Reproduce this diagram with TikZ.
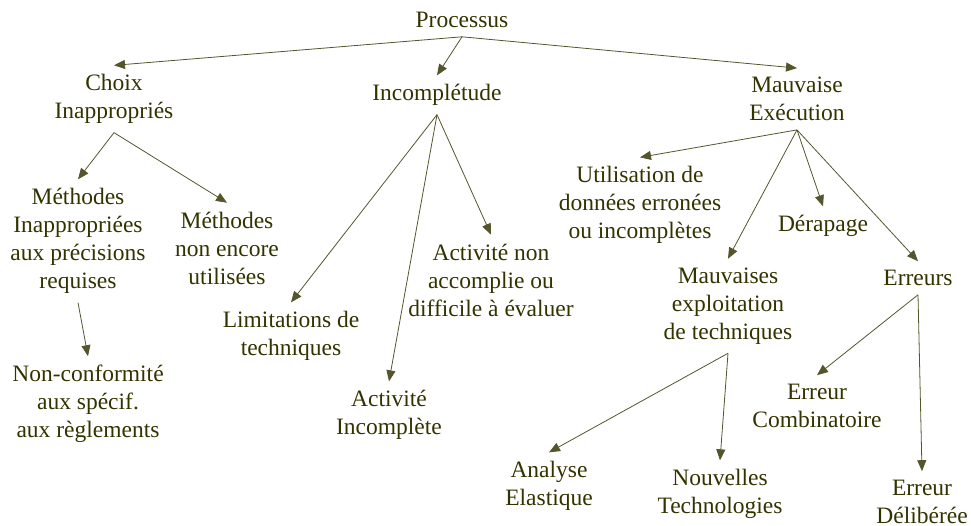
\documentclass[tikz,border=0pt]{standalone}
\usepackage{fontspec}
\setmainfont{Liberation Serif}
\usepackage{tikz}
\usetikzlibrary{arrows.meta}
\definecolor{olivetext}{RGB}{51,51,0}
\definecolor{oliveline}{RGB}{85,85,45}

\begin{document}
\begin{tikzpicture}[x = 1pt, y = -1pt, line width = 0.8pt,
                        txt/.style = {align = center, text = olivetext, inner sep = 2pt, outer sep = 7pt,
                                      font = \fontsize{23.5}{28}\selectfont},
                        arr/.style = {color = oliveline, -{Triangle[length = 11pt, width = 9pt]}}]
      \useasboundingbox (0, 0) rectangle (971, 526);

      \node [txt] (a1) at (462, 20) {Processus};
      \node [txt] (a2) at (114, 99) {Choix\\Inappropriés};
      \node [txt] (a3) at (437, 95) {Incomplétude};
      \node [txt] (a4) at (797, 99) {Mauvaise\\Exécution};
      \node [txt] (a5) at (78, 241) {Méthodes\\Inappropriées\\aux précisions\\requises};
      \node [txt] (a6) at (227, 248) {Méthodes\\non encore\\utilisées};
      \node [txt] (a7) at (88, 404) {Non-conformité\\aux spécif.\\aux règlements};
      \node [txt] (a8) at (291, 336) {Limitations de\\techniques};
      \node [txt] (a9) at (389, 415) {Activité\\Incomplète};
      \node [txt] (a10) at (491, 280) {Activité non\\accomplie ou\\difficile à évaluer};
      \node [txt] (a11) at (640, 205) {Utilisation de\\données erronées\\ou incomplètes};
      \node [txt] (a12) at (823, 226) {Dérapage};
      \node [txt] (a13) at (728, 306) {Mauvaises\\exploitation\\de techniques};
      \node [txt] (a14) at (918, 278) {Erreurs};
      \node [txt] (a15) at (817, 406) {Erreur\\Combinatoire};
      \node [txt] (a16) at (549, 486) {Analyse\\Elastique};
      \node [txt] (a17) at (720, 494) {Nouvelles\\Technologies};
      \node [txt] (a18) at (922, 502) {Erreur\\Délibérée};

      \draw [arr] (a1.south) -- (a2.north);
      \draw [arr] (a1.south) -- (a3.north);
      \draw [arr] (a1.south) -- (a4.north);
      \draw [arr] (a2.south) -- (a5.north);
      \draw [arr] (a2.south) -- (a6.north);
      \draw [arr] (a5.south) -- (a7.north);
      \draw [arr] (a3.south) -- (a8.north);
      \draw [arr] (a3.south) -- (a9.north);
      \draw [arr] (a3.south) -- (a10.north);
      \draw [arr] (a4.south) -- (a11.north);
      \draw [arr] (a4.south) -- (a12.north);
      \draw [arr] (a4.south) -- (a13.north);
      \draw [arr] (a4.south) -- (a14.north);
      \draw [arr] (a13.south) -- (a16.north);
      \draw [arr] (a13.south) -- (a17.north);
      \draw [arr] (a14.south) -- (a15.north);
      \draw [arr] (a14.south) -- (a18.north);

      \end{tikzpicture}
\end{document}
